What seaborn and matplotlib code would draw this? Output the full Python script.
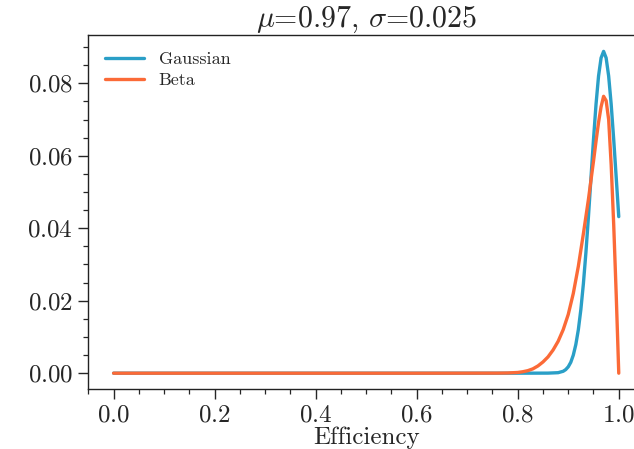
import pandas as pd
import matplotlib
matplotlib.use("Agg")
import matplotlib.pyplot as plt
import seaborn as sns
from matplotlib.ticker import MultipleLocator

# values (mu=0.97, sigma=0.025)
gauss_x = [0.0, 0.2, 0.4, 0.6, 0.8, 0.86, 0.88, 0.89, 0.895, 0.90, 0.905, 0.91,
           0.915, 0.92, 0.925, 0.93, 0.935, 0.94, 0.945, 0.95, 0.955, 0.96,
           0.965, 0.97, 0.975, 0.98, 0.985, 0.99, 0.995, 1.0]
gauss_y = [0.0, 0.0, 0.0, 0.0, 0.0, 0.00002, 0.00014, 0.00053, 0.00099, 0.00176,
           0.0030, 0.00498, 0.0079, 0.0120, 0.0176, 0.0247, 0.0333, 0.0432,
           0.0539, 0.0645, 0.0742, 0.0820, 0.0870, 0.0888, 0.0870, 0.0820,
           0.0742, 0.0645, 0.0539, 0.0432]

beta_x = [0.0, 0.2, 0.4, 0.6, 0.76, 0.78, 0.80, 0.81, 0.82, 0.83, 0.84, 0.85,
          0.86, 0.87, 0.88, 0.89, 0.90, 0.91, 0.92, 0.93, 0.94, 0.95, 0.955,
          0.96, 0.965, 0.97, 0.975, 0.98, 0.985, 0.99, 0.995, 1.0]
beta_y = [0.0, 0.0, 0.0, 0.0, 0.00002, 0.00006, 0.0002, 0.0004, 0.0007, 0.0012,
          0.0020, 0.0031, 0.0045, 0.0064, 0.0088, 0.0120, 0.0162, 0.0220,
          0.0295, 0.0385, 0.0480, 0.0585, 0.0640, 0.0692, 0.0735, 0.0764,
          0.0752, 0.0700, 0.0575, 0.0410, 0.0215, 0.0]

df = pd.concat([
    pd.DataFrame({"x": gauss_x, "y": gauss_y, "dist": "Gaussian"}),
    pd.DataFrame({"x": beta_x, "y": beta_y, "dist": "Beta"}),
], ignore_index=True)

sns.set_theme(style="ticks")
plt.rcParams.update({
    "font.family": "serif",
    "font.serif": ["cmr10", "DejaVu Serif"],
    "mathtext.fontset": "cm",
    "axes.formatter.use_mathtext": True,
    "axes.unicode_minus": False,
    "axes.edgecolor": "#222222",
    "axes.linewidth": 1.0,
})

fig = plt.figure(figsize=(6.34, 4.49), dpi=100)
ax = fig.add_axes([0.1393, 0.1330, 0.8765, 0.7884])

sns.lineplot(data=df, x="x", y="y", hue="dist", ax=ax, linewidth=2.4,
             palette={"Gaussian": "#2a9fc7", "Beta": "#fb6a37"}, sort=True)

ax.set_title(r"$\mu$=0.97, $\sigma$=0.025", fontsize=21.5, pad=5)
ax.set_xlabel("Efficiency", fontsize=18, labelpad=0)
ax.set_ylabel("")
ax.spines["right"].set_visible(False)

ax.xaxis.set_major_locator(MultipleLocator(0.2))
ax.xaxis.set_minor_locator(MultipleLocator(0.05))
ax.yaxis.set_major_locator(MultipleLocator(0.02))
ax.yaxis.set_minor_locator(MultipleLocator(0.005))
ax.tick_params(which="major", length=7, width=1.0, labelsize=18, pad=4)
ax.tick_params(which="minor", length=3.5, width=0.9)

leg = ax.legend(loc="upper left", frameon=False, fontsize=13, handlelength=2.2,
                labelspacing=0.3)
for line in leg.get_lines():
    line.set_linewidth(2.4)

fig.savefig("out.png", dpi=100)
